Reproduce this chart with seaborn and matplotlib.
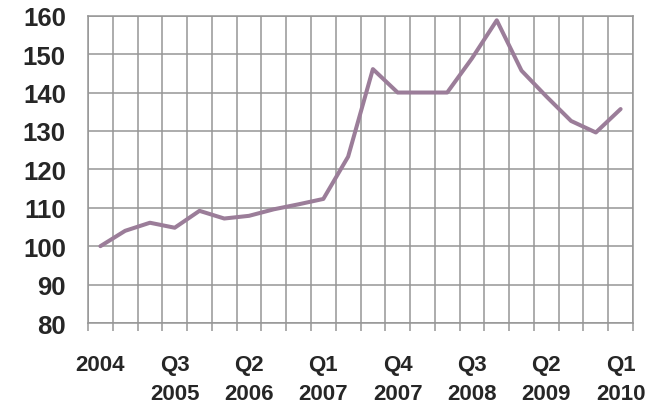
import matplotlib
matplotlib.use("Agg")
import matplotlib.pyplot as plt
import seaborn as sns
import pandas as pd
import numpy as np

# Data
periods = ["2004",
           "Q1 2005", "Q2 2005", "Q3 2005", "Q4 2005",
           "Q1 2006", "Q2 2006", "Q3 2006", "Q4 2006",
           "Q1 2007", "Q2 2007", "Q3 2007", "Q4 2007",
           "Q1 2008", "Q2 2008", "Q3 2008", "Q4 2008",
           "Q1 2009", "Q2 2009", "Q3 2009", "Q4 2009",
           "Q1 2010"]
values = [100.0, 104.0, 106.1, 104.8, 109.2, 107.2, 107.9, 109.6, 110.9, 112.3,
          123.3, 146.1, 140.0, 140.0, 140.0, 148.9, 158.8, 145.7, 139.0, 132.6,
          129.6, 135.7]
tick_idx = [0, 3, 6, 9, 12, 15, 18, 21]
tick_labels = ["2004", "Q3\n2005", "Q2\n2006", "Q1\n2007", "Q4\n2007",
               "Q3\n2008", "Q2\n2009", "Q1\n2010"]
y_ticks = [80, 90, 100, 110, 120, 130, 140, 150, 160]

sns.set_style("white")
plt.rcParams['font.family'] = ['Liberation Sans', 'DejaVu Sans']

df = pd.DataFrame({"pos": np.arange(len(periods)), "period": periods, "value": values})

fig = plt.figure(figsize=(6.55, 4.06), dpi=100)
ax = fig.add_axes([88/655, 1-324/406, (633-88)/655, (324-16.7)/406])

grid_col = "#969696"
sns.lineplot(data=df, x="pos", y="value", ax=ax, color="#9b7d99", linewidth=2.9, zorder=3)

ax.set_xlim(-0.5, len(periods) - 0.5)
ax.set_ylim(80, 160)
ax.set_yticks(y_ticks)
ax.set_yticklabels([str(v) for v in y_ticks])
ax.set_xticks(tick_idx)
ax.set_xticklabels(tick_labels, linespacing=1.5)
ax.set_xticks(np.arange(-0.5, len(periods), 1.0), minor=True)

ax.grid(True, axis="y", which="major", color=grid_col, linewidth=1.1, zorder=0)
ax.grid(True, axis="x", which="minor", color=grid_col, linewidth=1.1, zorder=0)
ax.grid(False, axis="x", which="major")

ax.tick_params(axis="x", which="major", length=0, pad=22.5, labelsize=16)
ax.tick_params(axis="x", which="minor", length=6, width=1.1, color=grid_col, direction="out", bottom=True)
ax.tick_params(axis="y", which="major", length=0, pad=16, labelsize=18.5)
for lab in ax.get_xticklabels() + ax.get_yticklabels():
    lab.set_fontweight("bold")

for s in ax.spines.values():
    s.set_color(grid_col)
    s.set_linewidth(1.1)

ax.set_xlabel("")
ax.set_ylabel("")

fig.savefig("out.png", dpi=100)
